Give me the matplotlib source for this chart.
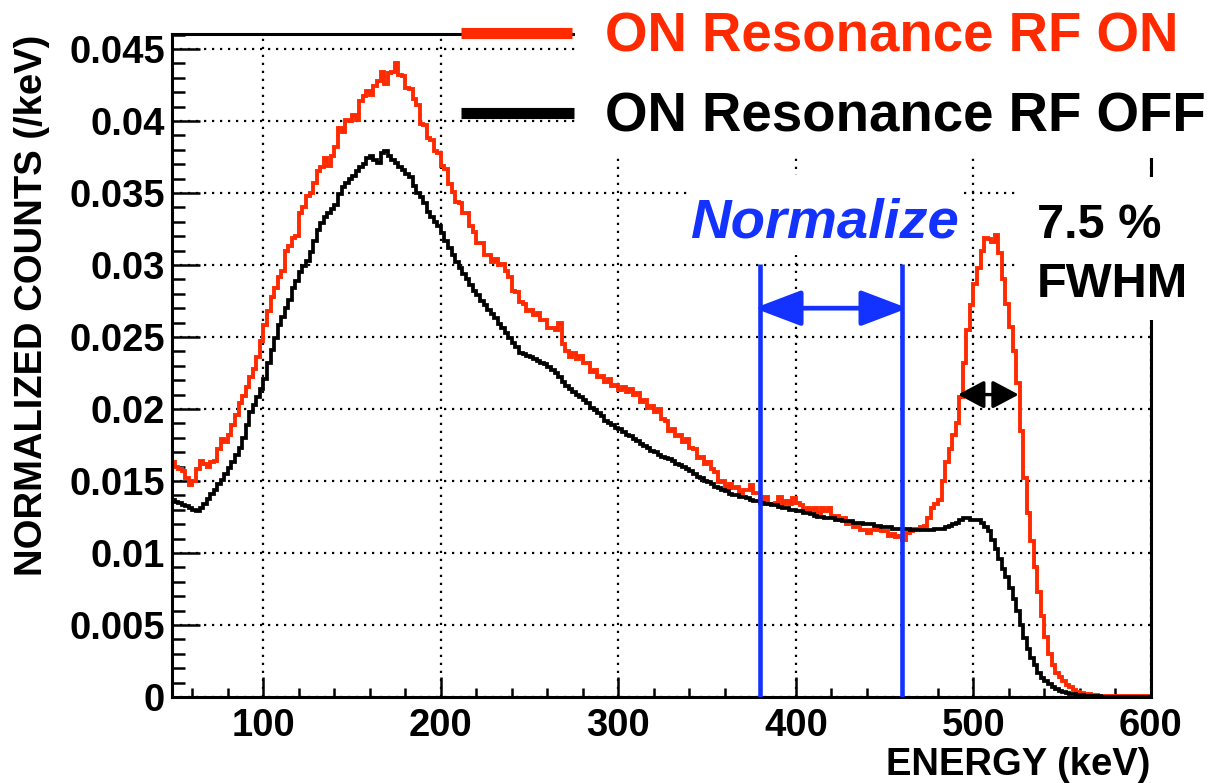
import numpy as np
import matplotlib
matplotlib.use("Agg")
import matplotlib.pyplot as plt
from matplotlib.lines import Line2D
from matplotlib.patches import Rectangle
from matplotlib.ticker import MultipleLocator, FuncFormatter

# histogram binning (keV)
BIN_LO = 48
BIN_WIDTH = 2

# counts per keV, in units of 1e-4, one value per 2 keV bin starting at 48 keV
rf_off = [
    136.5, 135.5, 134.5, 133.5, 132.5, 131.5, 130, 129.5, 131, 134,
    137.5, 141, 144, 148, 151, 155, 159, 163, 168, 173,
    180, 189, 198, 203, 208, 214, 221, 232, 241, 249,
    258, 264, 270, 276, 284, 289, 295, 299, 303, 309,
    317, 324, 329, 333, 336, 339, 342, 349, 354, 357,
    360, 362, 365, 368, 370, 374, 376, 373, 371, 378,
    379, 376, 373, 371, 368, 366, 363, 361, 355, 350,
    347, 343, 337, 333, 330, 327, 322, 317, 312, 307,
    302, 298, 294, 290, 286, 282, 279, 275, 272, 269,
    266, 263, 259, 256, 253, 249, 246, 243, 239, 238,
    237, 236, 235, 233, 232, 231, 229, 227, 225, 222,
    219, 216, 214, 212, 210, 208, 206, 204, 201, 199,
    197, 195, 192, 190, 189, 187, 186, 184, 182, 181,
    179, 178, 176, 174, 173, 171, 170, 168, 167, 166,
    165, 164, 162, 161, 160, 158, 157, 155, 153, 152,
    150, 149, 148, 146, 145, 144, 143, 141, 140, 140,
    139, 139, 138, 137, 136, 136, 135, 134, 134, 133,
    133, 132, 131, 131, 130, 130, 129, 129, 128, 128,
    127, 126, 125, 125, 124, 124, 124, 123, 123, 122,
    122, 122, 121, 121, 121, 120, 120, 120, 119, 119,
    118, 118, 118, 117, 117, 117, 117, 117, 116, 116,
    116, 116, 116, 116, 116, 117, 117, 117, 118, 119,
    120, 121, 123, 124, 124, 123, 123, 123, 121, 118,
    115, 109, 103, 96, 89, 83, 76, 68, 60, 50,
    41, 33, 27, 22, 17, 13.5, 11, 9, 7, 5.5,
    4.5, 3.8, 3, 2.4, 2, 1.6, 1.4, 1, 0.8, 0.6,
    0.5, 0.4, 0.3, 0.3, 0.3, 0.2, 0.2, 0.2, 0.2, 0.2,
    0.2, 0.2, 0.2, 0.2, 0.2, 0.2,
]

rf_on = [
    163, 160, 158, 157, 152, 147, 150, 158, 164, 162,
    160, 163, 164, 172, 179, 177, 182, 189, 196, 204,
    209, 215, 222, 228, 236, 247, 258, 268, 278, 284,
    292, 296, 310, 313, 319, 320, 336, 340, 348, 350,
    357, 365, 368, 374, 369, 376, 382, 395, 392, 401,
    400, 404, 401, 414, 417, 421, 418, 424, 428, 434,
    426, 433, 434, 440, 432, 431, 423, 422, 415, 411,
    398, 397, 388, 387, 379, 378, 369, 367, 356, 351,
    344, 343, 336, 336, 327, 323, 315, 315, 307, 307,
    302, 304, 300, 301, 296, 292, 282, 281, 274, 273,
    268, 269, 265, 267, 262, 262, 256, 256, 255, 260,
    245, 240, 236, 239, 235, 237, 232, 232, 226, 227,
    222, 223, 219, 221, 216, 217, 213, 215, 212, 214,
    210, 211, 205, 206, 201, 202, 198, 200, 193, 192,
    185, 186, 181, 182, 177, 179, 173, 172, 166, 167,
    162, 163, 158, 156, 149, 150, 146, 148, 145, 146,
    142, 144, 144, 147, 142, 142, 137, 139, 134, 134,
    135, 139, 134, 136, 134, 138, 135, 133, 129, 131,
    130, 131, 128, 131, 129, 131, 126, 126, 123, 124,
    120, 121, 118, 119, 116, 116, 114, 116, 116, 118,
    115, 115, 112, 113, 111, 112, 109, 114, 115, 117,
    117, 118, 119, 124, 131, 134, 137, 150, 163, 172,
    182, 190, 208, 232, 255, 272, 287, 298, 310, 319,
    318, 316, 321, 308, 290, 273, 257, 240, 218, 185,
    152, 128, 108, 90, 73, 56, 42, 30, 22, 17,
    14, 11, 8.5, 7, 5, 3.5, 2.8, 2.3, 1.8, 1.5,
    1.2, 1.0, 0.9, 0.8, 0.7, 0.8, 0.7, 0.6, 0.8, 0.7,
    0.9, 0.7, 0.6, 0.7, 0.5, 0.4,
]

UNIT = 1e-4
norm_window = [380, 460]          # keV
norm_arrow_y = 0.0270
fwhm_window = [491.3, 525.5]      # keV
fwhm_arrow_y = 0.0210

legend_labels = ["ON Resonance RF ON", "ON Resonance RF OFF"]

RED = "#ff2a00"
BLUE = "#1432ff"
FONT = "Liberation Sans"

W, H = 1211, 783


def fx(x):
    return x / W


def fy(y):
    return 1 - y / H


edges = BIN_LO + BIN_WIDTH * np.arange(len(rf_off) + 1)

fig = plt.figure(figsize=(W / 100, H / 100), dpi=100)
ax = fig.add_axes([fx(172), fy(697), (1151 - 172) / W, (697 - 34) / H])

ax.stairs(np.array(rf_off) * UNIT, edges, color="black", lw=2.7, baseline=None, zorder=3)
ax.stairs(np.array(rf_on) * UNIT, edges, color=RED, lw=2.8, baseline=None, zorder=2)

ax.set_xlim(48.5, 600)
ax.set_ylim(0, 0.04604)

ax.xaxis.set_major_locator(MultipleLocator(100))
ax.xaxis.set_minor_locator(MultipleLocator(20))
ax.yaxis.set_major_locator(MultipleLocator(0.005))
ax.yaxis.set_minor_locator(MultipleLocator(0.001))
ax.yaxis.set_major_formatter(FuncFormatter(lambda v, _: f"{v:g}"))

ax.grid(True, which="major", color="black", lw=1.6, linestyle=(0, (1, 2.6)))
ax.set_axisbelow(True)
for sp in ax.spines.values():
    sp.set_linewidth(2.2)

ax.tick_params(axis="both", which="both", direction="in", top=False, right=False,
               width=1.8, colors="black")
ax.tick_params(axis="y", which="major", length=20, pad=5)
ax.tick_params(axis="y", which="minor", length=9.6)
ax.tick_params(axis="x", which="major", length=14.4, pad=8)
ax.tick_params(axis="x", which="minor", length=6.7)
for lab in ax.get_xticklabels() + ax.get_yticklabels():
    lab.set_fontfamily(FONT)
    lab.set_fontweight("bold")
    lab.set_fontsize(27.5)

# normalisation window
ax.vlines(norm_window, 0, 0.0301, color=BLUE, lw=3.3, zorder=4)
ax.annotate("", xy=(463, norm_arrow_y), xytext=(376.5, norm_arrow_y),
            arrowprops=dict(arrowstyle="<|-|>,head_length=29,head_width=11",
                            color=BLUE, lw=3.4, shrinkA=0, shrinkB=0,
                            mutation_scale=1), zorder=4)
# FWHM arrow
ax.annotate("", xy=(fwhm_window[1], fwhm_arrow_y), xytext=(fwhm_window[0], fwhm_arrow_y),
            arrowprops=dict(arrowstyle="<|-|>,head_length=16,head_width=8.5",
                            color="black", lw=2.4, shrinkA=0, shrinkB=0,
                            mutation_scale=1), zorder=4)

# white boxes behind the text labels (they hide grid and frame)
for x0, y0, x1, y1 in [(575, 0, 1211, 158), (690, 175, 962, 255), (1015, 177, 1211, 320)]:
    fig.add_artist(Rectangle((fx(x0), fy(y1)), (x1 - x0) / W, (y1 - y0) / H,
                             transform=fig.transFigure, facecolor="white",
                             edgecolor="none", zorder=5))

# legend
for (y, col, label, x_end) in [(33, RED, legend_labels[0], 572), (113, "black", legend_labels[1], 574)]:
    fig.add_artist(Line2D([fx(461), fx(x_end)], [fy(y), fy(y)], transform=fig.transFigure,
                          color=col, lw=8, solid_capstyle="butt", zorder=6))
    fig.text(fx(605), fy(y + 19), label, color=col, fontsize=39.3, fontweight="bold",
             family=FONT, ha="left", va="baseline", zorder=7)

fig.text(fx(690), fy(237), "Normalize", color=BLUE, fontsize=40.5, fontweight="bold",
         fontstyle="italic", family=FONT, ha="left", va="baseline", zorder=7)
fig.text(fx(1037), fy(238), "7.5 %", color="black", fontsize=35, fontweight="bold",
         family=FONT, ha="left", va="baseline", zorder=7)
fig.text(fx(1037), fy(297), "FWHM", color="black", fontsize=35, fontweight="bold",
         family=FONT, ha="left", va="baseline", zorder=7)

fig.text(fx(1150), fy(775), "ENERGY (keV)", fontsize=27.5, fontweight="bold",
         family=FONT, ha="right", va="baseline")
fig.text(fx(32), fy(35), "NORMALIZED COUNTS (/keV)", fontsize=27.5, fontweight="bold",
         family=FONT, rotation=90, ha="center", va="top")

fig.savefig("out.png", dpi=100)
